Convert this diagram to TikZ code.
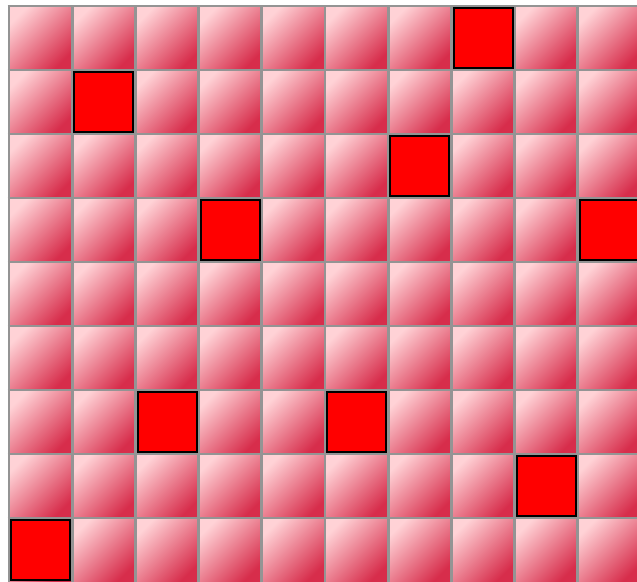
\documentclass[tikz,border=0pt]{standalone}
\usepackage{tikz}
\definecolor{rosaClaro}{RGB}{255,210,214}
\definecolor{rosaMedio}{RGB}{240,168,176}
\definecolor{carmesi}{RGB}{215,45,75}
\definecolor{grisRejilla}{RGB}{148,148,148}

\begin{document}
\begin{tikzpicture}[x=1pt,y=1pt,
      cell/.style  = {top color=rosaClaro, middle color=rosaMedio,
          bottom color=carmesi, shading angle=45},
      rejilla/.style = {draw=grisRejilla, line width=2.8pt},
      marca/.style = {fill=red, draw=black, line width=2pt},
    ]
    \useasboundingbox (0,0) rectangle (637,581);
    \clip (0,0) rectangle (637,581);
    \fill[white] (0,0) rectangle (637,581);

    % ── Celdas ───────────────────────────────────────────────────
    \foreach \i in {0,...,9}
      \foreach \j in {0,...,8}
        \shade[cell] ({9+63.2*\i},{575-64*(\j+1)}) rectangle +(63.2,64);

    % ── Rejilla ──────────────────────────────────────────────────
    \foreach \i in {0,...,9}
      \draw[rejilla] ({9+63.2*\i},-2) -- ({9+63.2*\i},576.4);
    \foreach \j in {0,...,8}
      \draw[rejilla] (7.6,{575-64*\j}) -- (640,{575-64*\j});

    % ── Marcas ───────────────────────────────────────────────────
    \foreach \i/\j in {7/0,1/1,6/2,3/3,9/3,2/6,5/6,8/7,0/8}
      \filldraw[marca] ({9+63.2*\i+2.2},{575-64*(\j+1)+2.2}) rectangle +(59,59.6);

  \end{tikzpicture}
\end{document}
